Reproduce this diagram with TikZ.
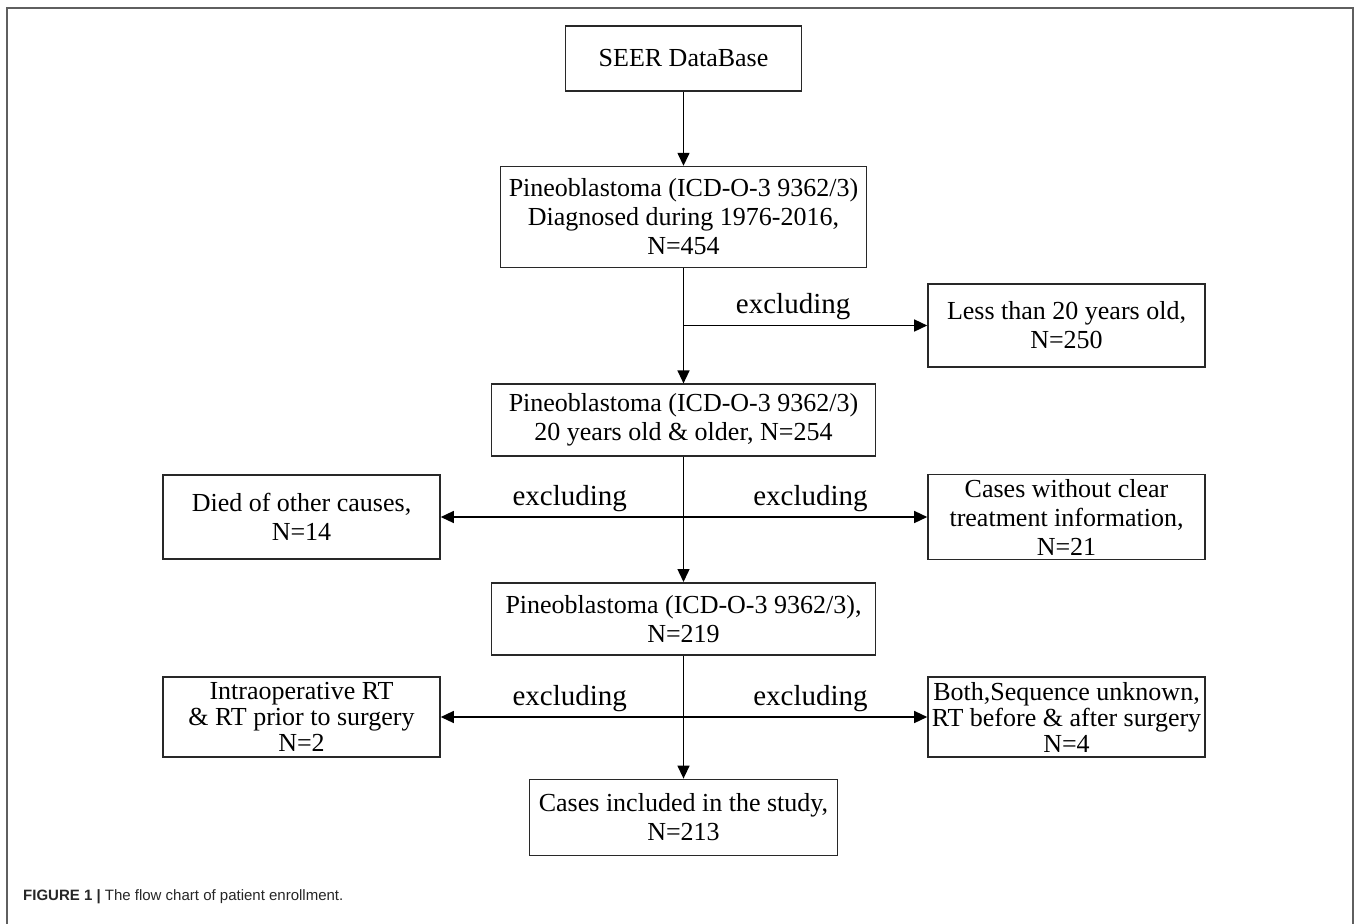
\documentclass[tikz,border=0pt]{standalone}
\usepackage{fontspec}
\setmainfont{Liberation Serif}
\newfontfamily\capfont{Liberation Sans}
\usetikzlibrary{arrows.meta, positioning}
\definecolor{framegray}{RGB}{95,95,95}
\definecolor{boxline}{RGB}{40,40,40}

\begin{document}
\begin{tikzpicture}[
    x=1pt, y=-1pt,
    every node/.style={font=\fontsize{26}{29}\selectfont},
    flowbox/.style={rectangle, draw=boxline, line width=1.6pt, align=center, inner sep=2pt, minimum width=#1},
    sidebox/.style={flowbox=277pt},
    excl/.style={font=\fontsize{29}{32}\selectfont, inner sep=0pt},
    arrow/.style={-{Triangle[length=13pt, width=12pt]}, line width=1.4pt},
    twoarrow/.style={{Triangle[length=13pt, width=12pt]}-{Triangle[length=13pt, width=12pt]}, line width=1.4pt}
]
\useasboundingbox (0,0) rectangle (1358,924);
\draw[framegray, line width=2pt] (7,924) -- (7,8) -- (1353,8) -- (1353,924);

% main column
\node[flowbox=236pt, minimum height=65pt] (seer) at (683.5,58.5) {SEER DataBase};
\node[flowbox=366pt, minimum height=101pt, below=74pt of seer] (pin1) {Pineoblastoma (ICD-O-3 9362/3)\\Diagnosed during 1976-2016,\\N=454};
\node[flowbox=384pt, minimum height=72pt, below=115pt of pin1] (pin2) {Pineoblastoma (ICD-O-3 9362/3)\\20 years old \& older, N=254};
\node[flowbox=384pt, minimum height=72pt, below=125pt of pin2] (pin3) {Pineoblastoma (ICD-O-3 9362/3),\\N=219};
\node[flowbox=308pt, minimum height=76pt, below=123pt of pin3] (final) {Cases included in the study,\\N=213};

% excluded cases
\node[sidebox, minimum height=83pt] (less) at (1066.5,325.5) {Less than 20 years old,\\N=250};
\node[sidebox, minimum height=84pt] (died) at (301.5,517) {Died of other causes,\\N=14};
\node[sidebox, minimum height=85pt] (cases) at (1066.5,517) {Cases without clear\\treatment information,\\N=21};
\node[sidebox, minimum height=80pt, font=\fontsize{26}{26}\selectfont] (intra) at (301.5,717) {Intraoperative RT\\\& RT prior to surgery\\N=2};
\node[sidebox, minimum height=80pt, font=\fontsize{26}{26}\selectfont] (both) at (1066.5,717) {Both,Sequence unknown,\\RT before \& after surgery\\N=4};

\draw[arrow] (seer) -- (pin1);
\draw[arrow] (pin1) -- (pin2);
\draw[arrow] (pin2) -- (pin3);
\draw[arrow] (pin3) -- (final);

\draw[arrow] (pin1.south |- less.west) -- node[excl, above=5pt, pos=0.45] {excluding} (less.west);
\draw[twoarrow] (died.east) -- node[excl, above=5pt, pos=0.265] {excluding} node[excl, above=5pt, pos=0.76] {excluding} (cases.west);
\draw[twoarrow] (intra.east) -- node[excl, above=5pt, pos=0.265] {excluding} node[excl, above=5pt, pos=0.76] {excluding} (both.west);

\node[anchor=west, inner sep=0pt, font=\capfont\fontsize{15}{18}\selectfont, text=black!85] (caption) at (23,897) {\textbf{FIGURE 1} \textbf{|} The flow chart of patient enrollment.};
\end{tikzpicture}
\end{document}
